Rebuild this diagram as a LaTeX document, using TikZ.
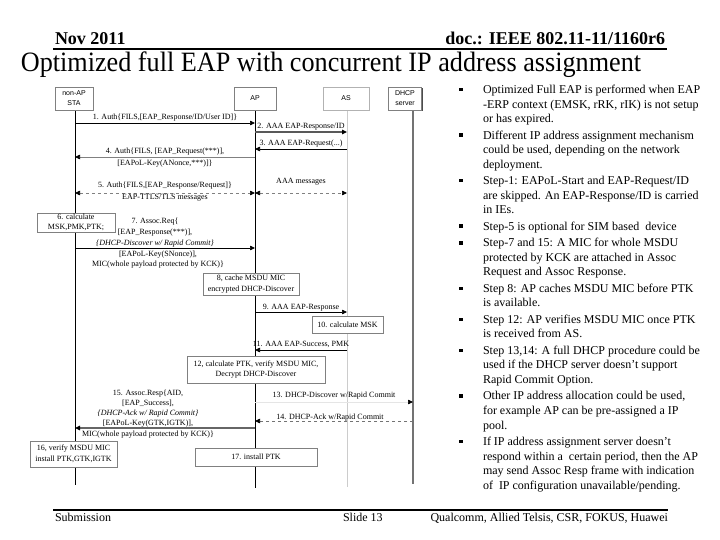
\documentclass[tikz,border=0pt]{standalone}
\usepackage{fontspec}
\setmainfont{Liberation Serif}
\newfontfamily\sansf{Liberation Sans}
\usetikzlibrary{arrows.meta,shadows}
\begin{document}
\begin{tikzpicture}[x=1pt,y=-1pt,
  every node/.style={inner sep=0pt, outer sep=0pt},
  shadowed/.style={drop shadow={shadow xshift=1.2pt,shadow yshift=-1.2pt,fill=black!70,opacity=1}},
  hdrbox/.style={draw=black!50, line width=0.5pt, fill=white, shadowed, font=\sansf\fontsize{7}{10}\selectfont, align=center, minimum height=23pt},
  procbox/.style={draw=black!50, line width=0.5pt, fill=white, shadowed, font=\fontsize{8}{10.5}\selectfont, align=center},
  msglbl/.style={font=\fontsize{8}{10.5}\selectfont, align=center, anchor=base},
  tipA/.style={-{Triangle[length=5pt,width=4.5pt,color=black]}},
  tipB/.style={{Triangle[length=5pt,width=4.5pt,color=black]}-{Triangle[length=5pt,width=4.5pt,color=black]}},
  msgline/.style={line width=0.7pt},
  bulletsq/.style={fill=black, minimum size=3.6pt},
  bullettxt/.style={font=\fontsize{12}{14.6}\selectfont, align=left, anchor=base west},
  hdrtxt/.style={font=\bfseries\fontsize{18}{20}\selectfont},
  foottxt/.style={font=\fontsize{12}{14}\selectfont},
]
\useasboundingbox (0,0) rectangle (720,540);
\fill[white] (0,0) rectangle (720,540);

% ---------- header ----------
\node[hdrtxt, anchor=base west] (date) at (55,45) {Nov 2011};
\node[hdrtxt, anchor=base east] (doc) at (665,45) {doc.: IEEE 802.11-11/1160r6};
\coordinate (hl) at (53,49); \coordinate (hr) at (667,49);
\draw[line width=2.5pt] (hl) -- (hr);
\node[font=\fontsize{28}{30}\selectfont, anchor=base] (title) at (331,72)
  {\scalebox{0.935}[1]{Optimized full EAP with concurrent IP address assignment}};

% ---------- footer ----------
\coordinate (fl) at (53,510); \coordinate (fr) at (668,510);
\draw[line width=2.5pt] (fl) -- (fr);
\node[foottxt, anchor=base west] (sub) at (55,521) {Submission};
\node[foottxt, anchor=base west] (slide) at (343,521) {Slide 13};
\node[foottxt, anchor=base east] (auth) at (668,521) {Qualcomm, Allied Telsis, CSR, FOKUS, Huawei};

% ---------- lifelines ----------
\coordinate (staT) at (75,110);  \coordinate (staB) at (75,485);
\coordinate (apT)  at (255,110); \coordinate (apB)  at (255,488);
\coordinate (asT)  at (347,110); \coordinate (asB)  at (347,487);
\coordinate (dhT)  at (413,110); \coordinate (dhB)  at (413,484);
\draw[line width=0.8pt] (staT) -- (staB);
\draw[line width=1pt] (apT) -- (apB);
\draw[line width=0.8pt, black!20] (asT) -- (asB);
\draw[line width=1.6pt, black!55] (dhT) -- (dhB);

\node[hdrbox, minimum width=38pt] (sta) at (74,98.5) {non-AP\\STA};
\node[hdrbox, minimum width=42pt] (ap) at (255,98.5) {AP};
\node[hdrbox, minimum width=46pt, draw=black!30, drop shadow={fill=black!25,shadow xshift=1pt,shadow yshift=-1pt,opacity=1}] (as) at (346,98.5) {AS};
\node[hdrbox, minimum width=33pt] (dhcp) at (405,98.5) {DHCP\\server};

% ---------- messages ----------
\coordinate (y1) at (0,123);
\draw[msgline, tipA] (staT |- y1) -- (apT |- y1);
\node[msglbl] (l1) at (165,120) {1. Auth\{FILS,[EAP\_Response/ID/User ID]\}};

\coordinate (y2) at (0,132);
\draw[msgline, tipA, line width=1.2pt, black!65] (apT |- y2) -- (asT |- y2);
\node[msglbl] (l2) at (301,129) {2. AAA EAP-Response/ID};

\coordinate (y3) at (0,149);
\draw[msgline, tipA] (asT |- y3) -- (apT |- y3);
\node[msglbl] (l3) at (301,146) {3. AAA EAP-Request(...)};

\coordinate (y4) at (0,157);
\draw[msgline, tipA, black!50] (apT |- y4) -- (staT |- y4);
\node[msglbl] (l4a) at (165,154) {4. Auth\{FILS, [EAP\_Request(***)],};
\node[msglbl] (l4b) at (165,166) {[EAPoL-Key(ANonce,***)]\}};

\coordinate (y5) at (0,193);
\draw[msgline, tipB, dashed, black!50] (staT |- y5) -- (apT |- y5);
\draw[msgline, tipB, dashed, black!50] (apT |- y5) -- (asT |- y5);
\node[msglbl] (l5a) at (165,188) {5. Auth\{FILS,[EAP\_Response/Request]\}};
\node[msglbl] (l5b) at (165,200) {EAP-TTLS/TLS messages};
\node[msglbl] (l5c) at (301,184) {AAA messages};

\node[procbox, minimum width=78pt, minimum height=19pt] (b6) at (76,222.5) {6. calculate\\MSK,PMK,PTK;};

\coordinate (y7) at (0,248);
\draw[msgline, tipA] (staT |- y7) -- (apT |- y7);
\node[msglbl] (l7a) at (155,245) {7. Assoc.Req\{\\{[}EAP\_Response(***)],\\\textit{\{DHCP-Discover w/ Rapid Commit\}}};
\node[msglbl] (l7b) at (158,266.5) {[EAPoL-Key(SNonce)],\\MIC(whole payload protected by KCK)\}};

\node[procbox, minimum width=96pt, minimum height=22pt] (b8) at (251,284) {8, cache MSDU MIC\\encrypted DHCP-Discover};

\coordinate (y9) at (0,312);
\draw[msgline, tipA] (apT |- y9) -- (asT |- y9);
\node[msglbl] (l9) at (301,309) {9. AAA EAP-Response};

\node[procbox, minimum width=71pt, minimum height=17pt] (b10) at (347.5,324.5) {10. calculate MSK};

\coordinate (y11) at (0,350);
\draw[msgline, tipA] (asT |- y11) -- (apT |- y11);
\node[msglbl] (l11) at (301,346) {11. AAA EAP-Success, PMK};

\node[procbox, minimum width=138pt, minimum height=27pt] (b12) at (256,369.5) {12, calculate PTK, verify MSDU MIC,\\Decrypt DHCP-Discover};

\coordinate (y13) at (0,402);
\draw[msgline, tipA, black!10] (apT |- y13) -- (dhT |- y13);
\node[msglbl] (l13) at (334,397) {13. DHCP-Discover w/Rapid Commit};

\coordinate (y14) at (0,421);
\draw[msgline, tipA, dashed, black!55] (dhT |- y14) -- (apT |- y14);
\node[msglbl] (l14) at (330,419) {14. DHCP-Ack w/Rapid Commit};

\coordinate (y15) at (0,428);
\draw[tipA, line width=1.6pt, black!60] (apT |- y15) -- (staT |- y15);
\node[msglbl, font=\fontsize{8}{10}\selectfont] (l15a) at (148,425) {15. Assoc.Resp\{AID,\\{[}EAP\_Success],\\\textit{\{DHCP-Ack w/ Rapid Commit\}}\\{[}EAPoL-Key(GTK,IGTK)],};
\node[msglbl] (l15b) at (148,436) {MIC(whole payload protected by KCK)\}};

\node[procbox, minimum width=87pt, minimum height=26pt] (b16) at (73.5,454) {16, verify MSDU MIC\\install PTK,GTK,IGTK};
\node[procbox, minimum width=122pt, minimum height=18pt] (b17) at (256,457) {17. install PTK};

% ---------- bullets (base = last line) ----------
\node[bulletsq] (d1) at (461,89.5) {};
\node[bullettxt] (t1) at (483,122.7) {Optimized Full EAP is performed when EAP\\-ERP context (EMSK, rRK, rIK) is not setup\\or has expired.};
\node[bulletsq] (d2) at (461,135.1) {};
\node[bullettxt] (t2) at (483,168.3) {Different IP address assignment mechanism\\could be used, depending on the network\\deployment.};
\node[bulletsq] (d3) at (461,180.7) {};
\node[bullettxt] (t3) at (483,213.9) {Step-1: EAPoL-Start and EAP-Request/ID\\are skipped. An EAP-Response/ID is carried\\in IEs.};
\node[bulletsq] (d4) at (461,226.3) {};
\node[bullettxt] (t4) at (483,230.3) {Step-5 is optional for SIM based\ \ device};
\node[bulletsq] (d5) at (461,242.7) {};
\node[bullettxt] (t5) at (483,275.9) {Step-7 and 15: A MIC for whole MSDU\\protected by KCK are attached in Assoc\\Request and Assoc Response.};
\node[bulletsq] (d6) at (461,288.3) {};
\node[bullettxt] (t6) at (483,306.9) {Step 8: AP caches MSDU MIC before PTK\\is available.};
\node[bulletsq] (d7) at (461,319.3) {};
\node[bullettxt] (t7) at (483,337.9) {Step 12: AP verifies MSDU MIC once PTK\\is received from AS.};
\node[bulletsq] (d8) at (461,350.3) {};
\node[bullettxt] (t8) at (483,383.5) {Step 13,14: A full DHCP procedure could be\\used if the DHCP server doesn’t support\\Rapid Commit Option.};
\node[bulletsq] (d9) at (461,395.9) {};
\node[bullettxt] (t9) at (483,429.1) {Other IP address allocation could be used,\\for example AP can be pre-assigned a IP\\pool.};
\node[bulletsq] (d10) at (461,441.5) {};
\node[bullettxt] (t10) at (483,489.3) {If IP address assignment server doesn’t\\respond within a\ \ certain period, then the AP\\may send Assoc Resp frame with indication\\of\ \ IP configuration unavailable/pending.};
\end{tikzpicture}
\end{document}
